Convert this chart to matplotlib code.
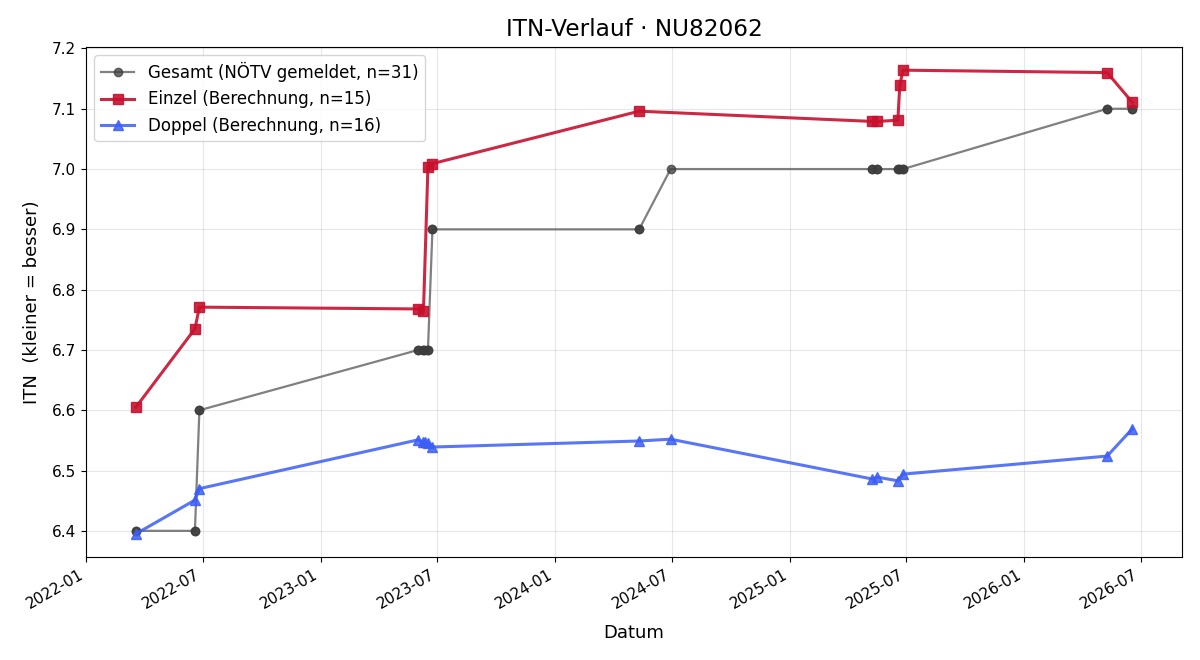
import numpy as np
import pandas as pd
import matplotlib
matplotlib.use("Agg")
import matplotlib.pyplot as plt
import matplotlib.dates as mdates

# Einzel (single) ITN per match date
einzel_dates = ["2022-03-19", "2022-06-19", "2022-06-26", "2023-06-02", "2023-06-10",
                "2023-06-17", "2023-06-24", "2024-05-11", "2025-05-09", "2025-05-17",
                "2025-06-18", "2025-06-21", "2025-06-26", "2026-05-10", "2026-06-18"]
einzel_itn = [6.605, 6.735, 6.771, 6.768, 6.764,
              7.004, 7.009, 7.096, 7.079, 7.079,
              7.081, 7.139, 7.164, 7.160, 7.111]

# Doppel (double) ITN per match date
doppel_dates = ["2022-03-19", "2022-06-19", "2022-06-26", "2023-06-02", "2023-06-10",
                "2023-06-13", "2023-06-17", "2023-06-24", "2024-05-11", "2024-06-29",
                "2025-05-09", "2025-05-17", "2025-06-18", "2025-06-26", "2026-05-10",
                "2026-06-18"]
doppel_itn = [6.395, 6.451, 6.470, 6.551, 6.547,
              6.548, 6.546, 6.539, 6.549, 6.552,
              6.486, 6.489, 6.483, 6.494, 6.524,
              6.569]

# Gesamt as reported by NÖTV (one entry per match)
gesamt_dates = ["2022-03-19", "2022-03-19", "2022-06-19", "2022-06-19", "2022-06-26",
                "2022-06-26", "2023-06-02", "2023-06-02", "2023-06-10", "2023-06-10",
                "2023-06-13", "2023-06-17", "2023-06-17", "2023-06-24", "2023-06-24",
                "2024-05-11", "2024-05-11", "2024-06-29", "2025-05-09", "2025-05-09",
                "2025-05-17", "2025-05-17", "2025-06-18", "2025-06-18", "2025-06-21",
                "2025-06-26", "2025-06-26", "2026-05-10", "2026-05-10", "2026-06-18",
                "2026-06-18"]
gesamt_itn = [6.4, 6.4, 6.4, 6.4, 6.6,
              6.6, 6.7, 6.7, 6.7, 6.7,
              6.7, 6.7, 6.7, 6.9, 6.9,
              6.9, 6.9, 7.0, 7.0, 7.0,
              7.0, 7.0, 7.0, 7.0, 7.0,
              7.0, 7.0, 7.1, 7.1, 7.1,
              7.1]

fig, ax = plt.subplots(figsize=(12, 6.6), dpi=100)

ax.plot(pd.to_datetime(gesamt_dates), gesamt_itn, color="#555555", alpha=0.75,
        marker="o", markersize=6, linewidth=1.6, markerfacecolor="#3c3c3c",
        markeredgecolor="#3c3c3c", label=f"Gesamt (NÖTV gemeldet, n={len(gesamt_itn)})")
ax.plot(pd.to_datetime(einzel_dates), einzel_itn, color="#c8102e", alpha=0.9,
        marker="s", markersize=7, linewidth=2.2,
        label=f"Einzel (Berechnung, n={len(einzel_itn)})")
ax.plot(pd.to_datetime(doppel_dates), doppel_itn, color="#3b5ef5", alpha=0.85,
        marker="^", markersize=7, linewidth=2.2,
        label=f"Doppel (Berechnung, n={len(doppel_itn)})")

ax.set_title("ITN-Verlauf · NU82062", fontsize=16.7, pad=8)
ax.set_xlabel("Datum", fontsize=13, labelpad=9)
ax.set_ylabel("ITN  (kleiner = besser)", fontsize=13, labelpad=8)
ax.tick_params(labelsize=11)
ax.grid(True, alpha=0.3)
ax.xaxis.set_major_formatter(mdates.DateFormatter("%Y-%m"))
ax.legend(fontsize=12, loc="upper left")
fig.autofmt_xdate()
fig.subplots_adjust(left=0.0717, right=0.985, top=0.9288, bottom=0.156)
fig.savefig("out.png")
